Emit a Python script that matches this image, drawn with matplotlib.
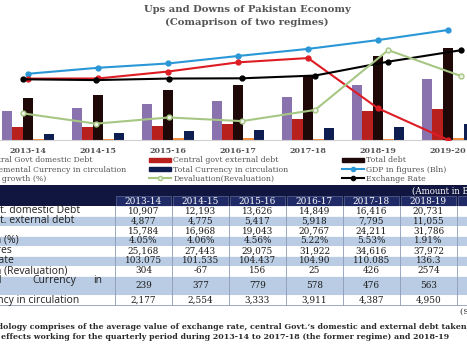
import numpy as np
import matplotlib
matplotlib.use("Agg")
from matplotlib import pyplot as plt
from matplotlib.patches import Patch, Rectangle
from matplotlib.lines import Line2D

years = ['2013-14', '2014-15', '2015-16', '2016-17', '2017-18', '2018-19', '2019-20']
dom_debt = [10907, 12193, 13626, 14849, 16416, 20731, 23200]
ext_debt = [4877, 4775, 5417, 5918, 7795, 11055, 11700]
total_debt = [15784, 16968, 19043, 20767, 24211, 31786, 35100]
incr_curr = [239, 377, 779, 578, 476, 563, 900]
total_curr = [2177, 2554, 3333, 3911, 4387, 4950, 6100]
gdp_bln = [25168, 27443, 29075, 31922, 34616, 37972, 41800]
gdp_growth = [4.05, 4.06, 4.56, 5.22, 5.53, 1.91, -0.36]
exch_rate = [103.075, 101.535, 104.437, 104.90, 110.085, 136.3, 158.0]
deval = [304, -67, 156, 25, 426, 2574, 1640]

# table shows the first six years only
n_tab = 6
exch_rate_txt = ['103.075', '101.535', '104.437', '104.90', '110.085', '136.3']
row_labels = ['Central Govt. domestic Debt', 'Central Govt. external debt', 'Total debt',
              'GDP growth (%)', 'GDP in figures', 'Exchange Rate',
              'Devaluation (Revaluation)', 'Incremental Currency in circulation',
              'Total Currency in circulation']

W, H = 467, 350


def box(x0, y0, x1, y1):
    # pixel box (top-left origin) -> figure fraction
    return [x0 / W, 1 - y1 / H, (x1 - x0) / W, (y1 - y0) / H]


c_purple = '#8A72AE'
c_red = '#B8201E'
c_dark = '#1E0808'
c_orange = '#F08A3C'
c_navy = '#0E1E50'
c_blue = '#2A97D6'
c_redline = '#DD1C24'
c_green = '#A6C784'
grey_txt = '#555555'
serif = 'DejaVu Serif'
lab_font = dict(fontsize=7.5, family='Open Sans', color='#222222')

fig = plt.figure(figsize=(4.67, 3.5), dpi=100)

# ---------- chart ----------
ax = fig.add_axes(box(-7, 20, 483, 140))
x = np.arange(len(years))
bw = 0.15
series = [(dom_debt, c_purple), (ext_debt, c_red), (total_debt, c_dark),
          (incr_curr, c_orange), (total_curr, c_navy)]
for k, (vals, col) in enumerate(series):
    ax.bar(x + (k - 2) * bw, vals, bw, color=col, zorder=2)
ax.plot(x, gdp_bln, color=c_blue, lw=1.5, marker='o', ms=3.5, zorder=4)
ax.set_xlim(-0.5, 6.5)
ax.set_ylim(0, 45600)
ax.set_xticks(x)
ax.set_xticklabels(years, fontsize=5.8, fontweight='bold', family=serif, color=grey_txt)
ax.tick_params(axis='x', length=0, pad=5)
ax.set_yticks([])
for s in ['top', 'right', 'left']:
    ax.spines[s].set_visible(False)
ax.spines['bottom'].set_color('#D0D0D0')
ax.patch.set_alpha(0)

# GDP growth on its own scale
ax_g = fig.add_axes(box(-7, 20, 483, 140), sharex=ax)
ax_g.plot(x, gdp_growth, color=c_redline, lw=1.5, marker='o', ms=3.5, zorder=4)
ax_g.set_ylim(-0.37, 8.27)
ax_g.axis('off')

# exchange rate and devaluation, plotted on a slightly shifted category axis
ax_e = fig.add_axes(box(-7, 20, 483, 140))
ax_e.plot(x, exch_rate, color='black', lw=1.5, marker='o', ms=3.5, zorder=5)
ax_e.set_xlim(-0.406, 6.297)
ax_e.set_ylim(-11.5, 214.9)
ax_e.axis('off')

ax_d = fig.add_axes(box(-7, 20, 483, 140))
ax_d.plot(x, deval, color=c_green, lw=1.5, marker='o', ms=3.5, mfc='#EEF3E6', zorder=5)
ax_d.set_xlim(-0.406, 6.297)
ax_d.set_ylim(-653, 3655)
ax_d.axis('off')

fig.text(247 / W, 1 - 10 / H, 'Ups and Downs of Pakistan Economy', ha='center', va='center',
         fontsize=7.2, fontweight='bold', family=serif, color=grey_txt)
fig.text(247 / W, 1 - 22 / H, '(Comaprison of two regimes)', ha='center', va='center',
         fontsize=7.2, fontweight='bold', family=serif, color=grey_txt)

# ---------- legend, three columns ----------
def line_h(col, mfc=None):
    return Line2D([], [], color=col, lw=1.5, marker='o', ms=3, mfc=mfc or col)

cols = [
    ([Patch(color=c_purple), Patch(color=c_orange), line_h(c_redline)],
     ['Central Govt domestic Debt', 'Incremental Currency in circulation', 'GDP growth (%)'], -42),
    ([Patch(color=c_red), Patch(color=c_navy), line_h(c_green, '#EEF3E6')],
     ['Central govt external debt', 'Total Currency in circulation', 'Devaluation(Revaluation)'], 149),
    ([Patch(color=c_dark), line_h(c_blue), line_h('black')],
     ['Total debt', 'GDP in figures (Bln)', 'Exchange Rate'], 342),
]
for handles, labels, px in cols:
    fig.legend(handles, labels, loc='upper left', bbox_to_anchor=(px / W, 1 - 156.5 / H),
               frameon=False, borderpad=0, borderaxespad=0, handlelength=2.8,
               handleheight=0.45, handletextpad=0.3, labelspacing=0.14,
               prop={'family': serif, 'size': 5.6}, labelcolor=grey_txt)

# ---------- table ----------
tx = fig.add_axes(box(115 - 3.3 * 57, 180, 514, 350))
tx.set_xlim(-3.3, 7)
tx.set_ylim(350, 180)
tx.axis('off')
lab_x = -3.02

row_h = [10, 10, 10, 10, 10, 10, 10, 19.3, 10]
row_top = 205.7 + np.concatenate([[0], np.cumsum(row_h)[:-1]])

cells = [
    ['{:,}'.format(v) for v in dom_debt[:n_tab]],
    ['{:,}'.format(v) for v in ext_debt[:n_tab]],
    ['{:,}'.format(v) for v in total_debt[:n_tab]],
    ['{:.2f}%'.format(v) for v in gdp_growth[:n_tab]],
    ['{:,}'.format(v) for v in gdp_bln[:n_tab]],
    exch_rate_txt,
    [str(v) for v in deval[:n_tab]],
    [str(v) for v in incr_curr[:n_tab]],
    ['{:,}'.format(v) for v in total_curr[:n_tab]],
]

# header band
tx.add_patch(Rectangle((-3.3, 185), 10.3, 21, color='#10163F', lw=0))
for i in range(7):
    tx.add_patch(Rectangle((i + 0.02, 196.3), 0.96, 9.2, facecolor='#1F2A66',
                           edgecolor='#6F7BA8', lw=0.4))
for i in range(n_tab):
    tx.text(i + 0.5, 201, years[i], ha='center', va='center', color='white',
            fontsize=6.4, family=serif)
fig.text(412 / W, 1 - 191 / H, '(Amount in Billion Rs)', ha='left', va='center',
         color='white', fontsize=6.2, family=serif)

for r in range(len(row_labels)):
    top, h = row_top[r], row_h[r]
    fc = '#B9CCE4' if r % 2 == 1 else 'white'
    tx.add_patch(Rectangle((-3.3, top), 10.3, h, facecolor=fc, edgecolor='white', lw=0.5))
    yc = top + h / 2
    if r == 7:
        # justified first line of the wrapped label (second line lies off the crop)
        words = row_labels[r].split()
        tx.text(lab_x, top + 5.2, words[0], ha='left', va='center', **lab_font)
        tx.text(-1.456, top + 5.2, words[1], ha='left', va='center', **lab_font)
        tx.text(-0.228, top + 5.2, words[2], ha='right', va='center', **lab_font)
    else:
        tx.text(lab_x, yc, row_labels[r], ha='left', va='center', **lab_font)
    for i, s in enumerate(cells[r]):
        tx.text(i + 0.5, yc, s, ha='center', va='center', fontsize=6.4,
                family=serif, color='#1A1A1A')

for i in range(8):
    tx.plot([i, i], [row_top[0], row_top[-1] + row_h[-1]], color='#8C9BB8', lw=0.6)
tx.plot([-3.3, 7], [row_top[-1] + row_h[-1]] * 2, color='#8C9BB8', lw=0.6)

fig.text(460 / W, 1 - 311.7 / H, '(Source: SBP)', ha='left', va='center',
         fontsize=6, family=serif, color='#222222')
fig.text(-31 / W, 1 - 327.3 / H,
         'Methodology comprises of the average value of exchange rate, central Govt.\u2019s '
         'domestic and external debt taken', ha='left', va='center', fontsize=5.7,
         fontweight='bold', family=serif, color='#2A2A2A')
fig.text(1 / W, 1 - 337.3 / H,
         'effects working for the quarterly period during 2013-14 to 2017-18 '
         '(the former regime) and 2018-19', ha='left', va='center', fontsize=5.7,
         fontweight='bold', family=serif, color='#2A2A2A')

fig.savefig('out.png', dpi=100)
